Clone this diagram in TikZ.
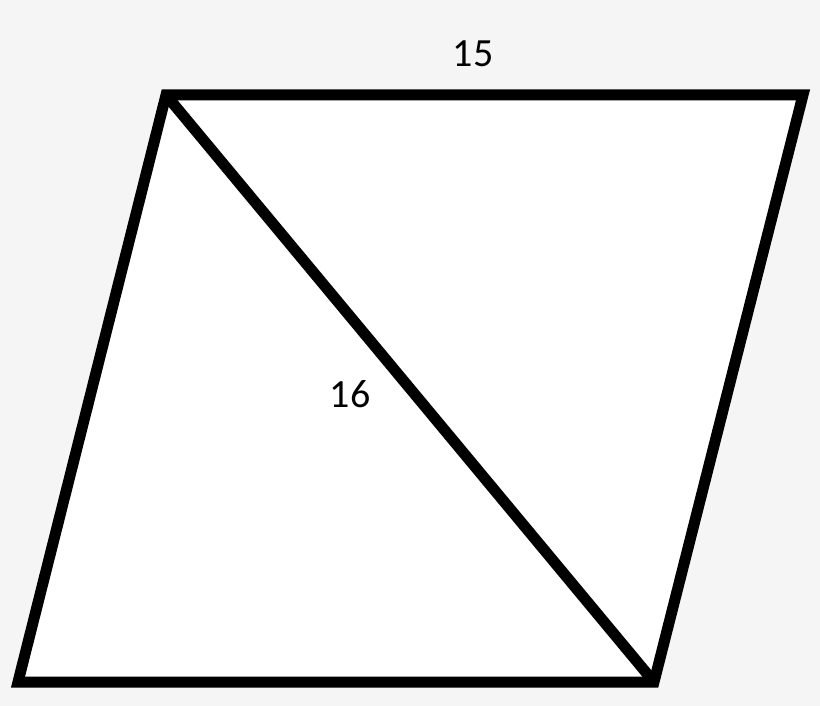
\documentclass[tikz,border=0pt]{standalone}
\usepackage{fontspec}
\setmainfont{Carlito}
\definecolor{paper}{HTML}{F5F5F5}
\begin{document}
\begin{tikzpicture}[x=1pt,y=-1pt,every node/.style={black,font=\fontsize{40}{48}\selectfont},
    side/.style={line width=11pt,line join=miter}]
    	\fill[paper] (0,0) rectangle (820,706);
    	\useasboundingbox (0,0) rectangle (820,706);

    	\coordinate (tl) at (166,95);
    	\coordinate (tr) at (803,95);
    	\coordinate (br) at (654,682);
    	\coordinate (bl) at (18,682);

    	\fill[white] (tl) -- (tr) -- (br) -- (bl) -- cycle;
    	\draw[side] (tl) -- (tr) -- (br) -- (bl) -- cycle;
    	\draw[side] (tl) -- (br);

    	\node (top) at (473,54) {15};
    	\node (diag) at (350,394) {16};
    \end{tikzpicture}
\end{document}
